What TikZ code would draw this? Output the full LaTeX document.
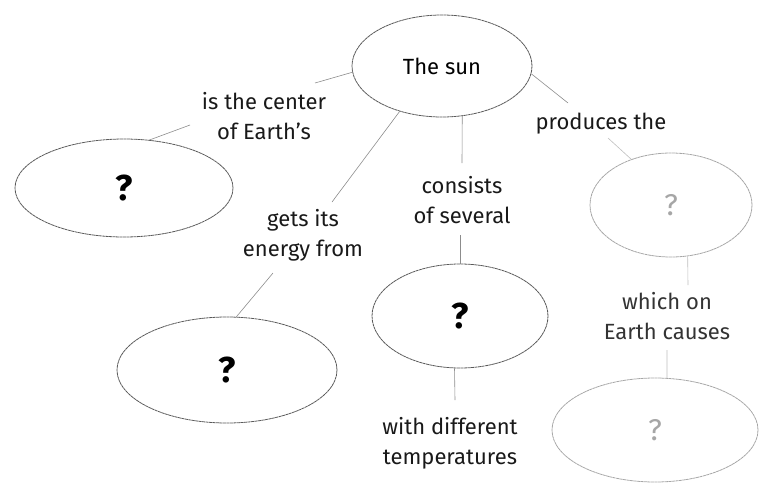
\documentclass[tikz,border=0pt]{standalone}
\usepackage{fontspec}
\setmainfont{Fira Sans}
\usetikzlibrary{shapes.geometric,calc}
\tikzset{
  bubble/.style={ellipse, draw=black!65, line width=0.8pt, dash pattern=on 3pt off 0.5pt, inner sep=0pt},
  fadebubble/.style={ellipse, draw=black!35, line width=0.8pt, dash pattern=on 3pt off 0.5pt, inner sep=0pt},
  lbl/.style={align=center, inner sep=0pt, font=\fontsize{22}{30}\selectfont, text=black!90},
  qmark/.style={font=\fontsize{36}{36}\selectfont\bfseries, text=black},
  fadeq/.style={font=\fontsize{30}{30}\selectfont, text=black!35},
  link/.style={draw=black!45, line width=0.6pt},
  fadelink/.style={draw=black!25, line width=0.6pt}
}
\begin{document}
\begin{tikzpicture}[x=1pt,y=-1pt]
\useasboundingbox (0,0) rectangle (763,483);
% ellipses
\node[bubble, minimum width=180pt, minimum height=102pt] (sun) at (442,66) {\fontsize{22}{22}\selectfont The sun};
\node[bubble, minimum width=218pt, minimum height=98pt] (left) at (124,188) {};
\node[qmark] at (left) {?};
\node[bubble, minimum width=220pt, minimum height=106pt] (bleft) at (227,370) {};
\node[qmark] at (bleft) {?};
\node[bubble, minimum width=176pt, minimum height=104pt] (mid) at (460,316) {};
\node[qmark] at (mid) {?};
\node[fadebubble, minimum width=162pt, minimum height=104pt] (right) at (671,205) {};
\node[fadeq] at (right) {?};
\node[fadebubble, minimum width=206pt, minimum height=104pt] (bright) at (655,430) {};
\node[fadeq] at (bright) {?};
% labels
\node[lbl] (lblA) at (264,116) {is the center\\of Earth's};
\node[lbl] (lblB) at (303,235) {gets its\\energy from};
\node[lbl] (lblC) at (462,200) {consists\\of several};
\node[lbl] (lblD) at (450,443) {with different\\temperatures};
\node[lbl] (lblE) at (601,124) {produces the};
\node[lbl, text=black!80] (lblF) at (667,316) {which on\\Earth causes};
% connectors
\draw[link] (sun.184) -- ($(lblA)+(51,-33)$);
\draw[link] ($(lblA)+(-74,9)$) -- (left.62);
\draw[link] (sun.227.5) -- ($(lblB)+(29,-33)$);
\draw[link] ($(lblB)+(-30,38)$) -- (bleft.80);
\draw[link] (sun.292) -- ($(lblC)+(0,-37)$);
\draw[link] ($(lblC)+(-2,35)$) -- (mid.north);
\draw[link] (mid.264.5) -- ($(lblD)+(5,-43)$);
\draw[link] (sun.355.5) -- ($(lblE)+(-33,-21)$);
\draw[fadelink] ($(lblE)+(7,14)$) -- (right.131);
\draw[fadelink] (right.288) -- ($(lblF)+(21,-31)$);
\draw[fadelink] ($(lblF)+(0,34)$) -- (bright.77);
\end{tikzpicture}
\end{document}
